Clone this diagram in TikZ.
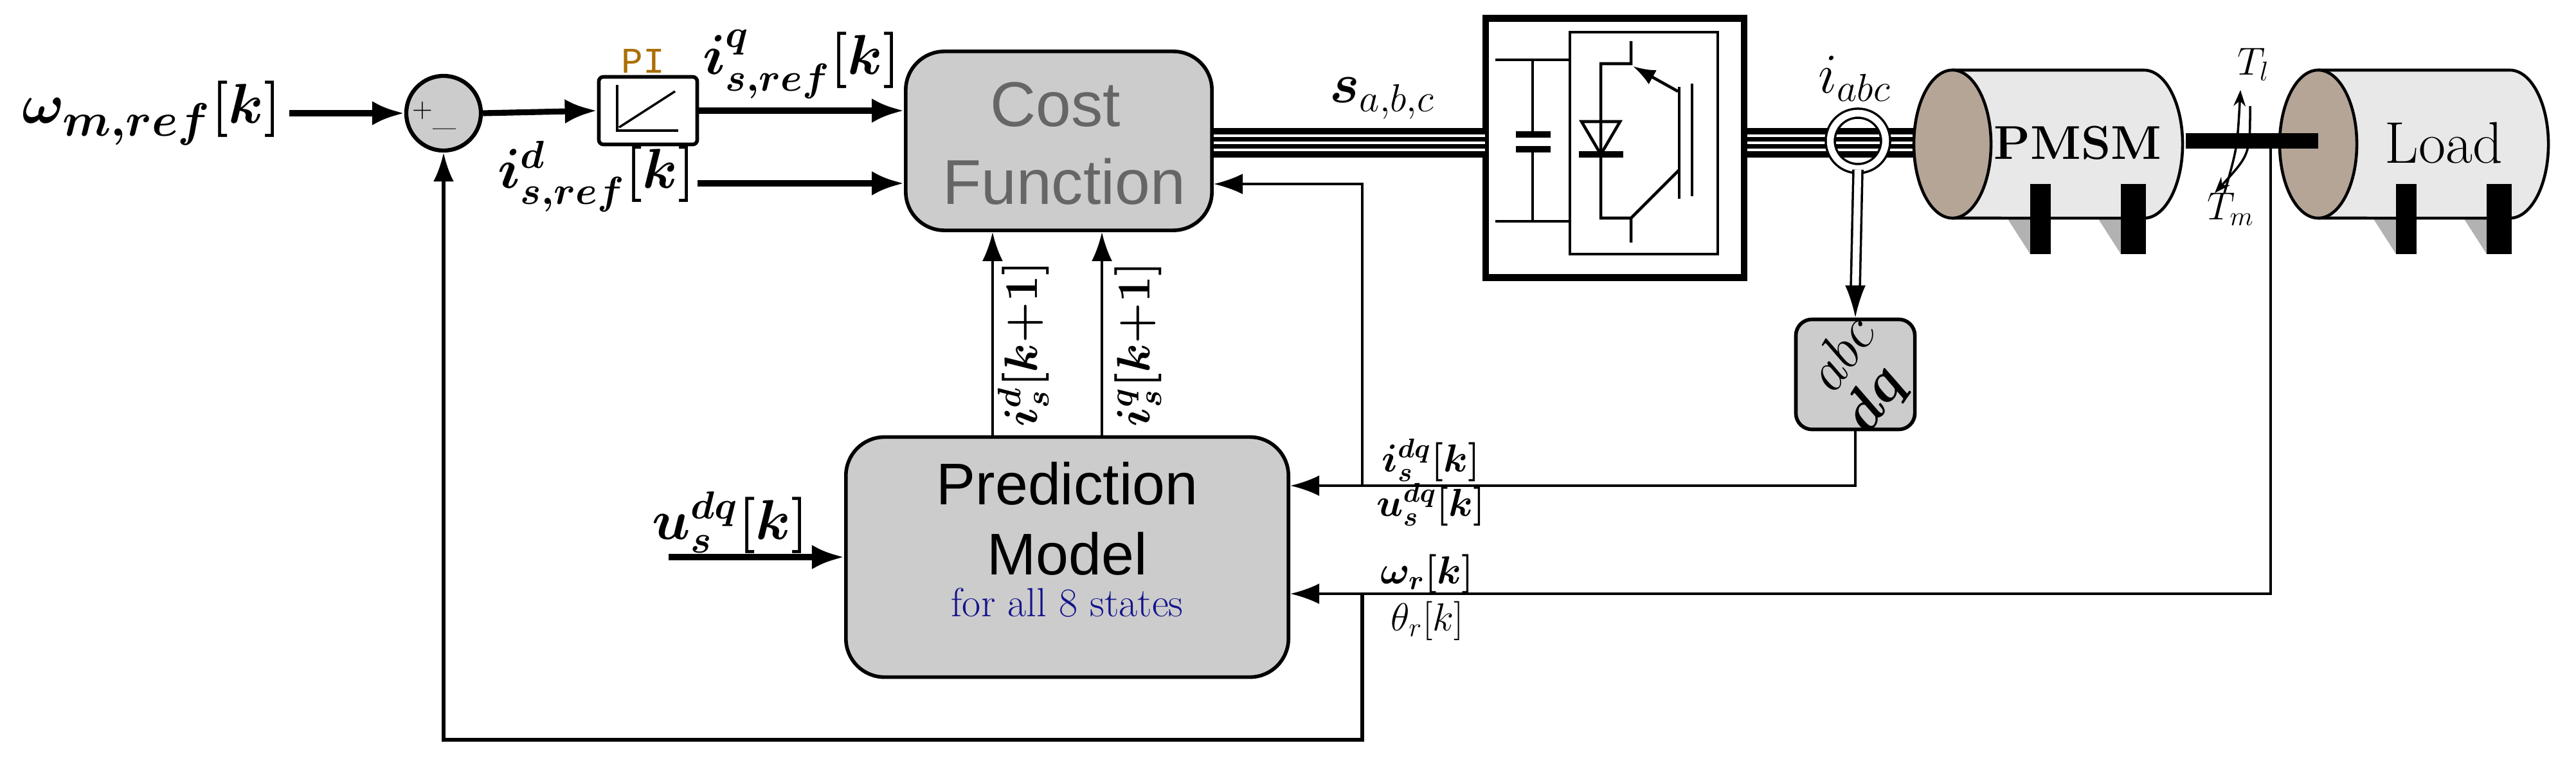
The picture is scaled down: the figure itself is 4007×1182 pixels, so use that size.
\documentclass[tikz,border=0pt]{standalone}
\usepackage{amsmath,bm}
\usepackage{fontspec}
\newfontfamily\sansf{Liberation Sans}
\newfontfamily\monof{Liberation Mono}
\usetikzlibrary{arrows.meta,positioning,shapes.geometric}

\begin{document}
\begin{tikzpicture}[
    x=0.01cm, y=-0.01cm,
    blk/.style={draw, line width=1.6pt, fill=gray!40, rounded corners=0.6cm},
    arrow/.style={-{Latex[length=0.5cm,width=0.38cm]}, line width=2.6pt},
    thin arrow/.style={-{Latex[length=0.45cm,width=0.32cm]}, line width=1.1pt},
    bus/.style={line width=0.46cm, black},
    lbl/.style={font=\fontsize{25}{28}\selectfont},
    slbl/.style={font=\fontsize{17}{20}\selectfont},
    face/.style={fill={rgb,255:red,181;green,165;blue,150}}
]
\useasboundingbox (0,0) rectangle (4007,1182);

% blocks
\node[font=\fontsize{29}{30}\selectfont] (wref) at (236,176) {$\bm{\omega_{m,ref}[k]}$};
\node[circle, draw, line width=1.8pt, fill=gray!40, minimum size=1.16cm] (sum) at (690,176) {};
\node[font=\fontsize{12}{12}\selectfont] at (657,172) {$+$};
\node[font=\fontsize{14}{14}\selectfont] at (692,198) {$\_$};
\node[draw, line width=1.6pt, fill=white, rounded corners=2pt, minimum width=1.53cm, minimum height=1.05cm] (pi) at (1008,172) {};
\draw[line width=1pt] (960,132) -- (960,203) -- (1055,203);
\draw[line width=1pt] (963,198) -- (1050,142);
\node[font=\monof\fontsize{16}{16}\selectfont, text={rgb,255:red,170;green,110;blue,0}] at (1000,95) {PI};
\node[blk, minimum width=4.76cm, minimum height=2.78cm] (cost) at (1647,219) {};
\node[font=\sansf\fontsize{28}{28}\selectfont, text=black!60] at (1642,163) {Cost};
\node[font=\sansf\fontsize{28}{28}\selectfont, text=black!60] at (1655,282) {Function};
\node[blk, minimum width=6.88cm, minimum height=3.73cm] (pred) at (1660,866) {};
\node[font=\sansf\fontsize{26}{31}\selectfont, align=center] at (1660,806) {Prediction\\Model};
\node[font=\fontsize{18}{18}\selectfont, text={rgb,255:red,20;green,20;blue,140}] at (1660,937) {for all 8 states};
\node[blk, rounded corners=0.25cm, minimum width=1.85cm, minimum height=1.71cm] (abcdq) at (2886,582) {};
\node[font=\fontsize{25}{28}\selectfont, rotate=55] at (2862,548) {$abc$};
\node[font=\fontsize{25}{28}\selectfont, rotate=55] at (2918,622) {$\bm{dq}$};

% inverter
\node[draw, line width=3pt, minimum width=4.02cm, minimum height=4.03cm] (inv) at (2512,230) {};
\draw[line width=1.3pt] (2442,50) rectangle (2672,395);
\draw[line width=1.3pt] (2326,93) -- (2442,93) (2326,344) -- (2442,344)
    (2384,93) -- (2384,209) (2384,232) -- (2384,344);
\draw[line width=3pt] (2358,209) -- (2412,209) (2358,232) -- (2412,232);
\draw[line width=1.3pt] (2537,64) -- (2537,99) -- (2490,99) -- (2490,339) -- (2537,339) -- (2537,377)
    (2537,339) -- (2612,264);
\draw[line width=1.3pt] (2460,189) -- (2520,189) -- (2490,240) -- cycle;
\draw[line width=3pt] (2456,240) -- (2525,240);
\draw[line width=1.3pt] (2612,135) -- (2612,309);
\draw[line width=1.3pt] (2632,130) -- (2632,305);
\draw[-{Latex[length=0.35cm,width=0.25cm]}, line width=1.3pt] (2610,142) -- (2540,103);

% buses
\coordinate (pmsm) at (3040,222);
\draw[bus] (cost.east |- 0,222) -- (inv.west |- 0,222);
\draw[bus] (inv.east |- 0,222) -- (pmsm);
\foreach \d in {-11,0,11}{
  \draw[white, line width=0.9pt] (cost.east |- 0,222) ++(0,\d) -- ++(422,0);
  \draw[white, line width=0.9pt] (inv.east |- 0,222) ++(0,\d) -- ++(327,0);
}

% machines
\foreach \cx/\txt in {3037/{\fontsize{21}{21}\selectfont\textbf{PMSM}}, 3606/{\fontsize{26}{26}\selectfont Load}}{
  \fill[gray!60] (\cx+85,339) -- (\cx+121,395) -- (\cx+121,300) -- cycle;
  \fill[gray!60] (\cx+226,339) -- (\cx+262,395) -- (\cx+262,300) -- cycle;
  \draw[line width=1.3pt, fill=gray!18] (\cx,109) -- (\cx+298,109) arc[start angle=90, end angle=-90, x radius=0.6cm, y radius=1.15cm] -- (\cx,339);
  \draw[line width=1.3pt, face] (\cx,224) ellipse [x radius=0.6cm, y radius=1.15cm];
  \fill (\cx+121,286) rectangle (\cx+153,395);
  \fill (\cx+262,286) rectangle (\cx+301,395);
  \node at (\cx+195,222) {\txt};
}
\coordinate (load) at (3606,219);
\fill (3400,207) rectangle (load |- 0,231);
\draw[-{Stealth[length=0.25cm]}, line width=1pt] (3460,300) .. controls (3480,230) .. (3485,140);
\draw[-{Stealth[length=0.25cm]}, line width=1pt] (3500,165) .. controls (3500,240) .. (3445,300);
\node[slbl] at (3505,100) {$T_l$};
\node[slbl] at (3470,325) {$T_m$};

% current sensor
\node[circle, draw, line width=1pt, double=white, double distance=3pt, minimum size=0.86cm] (sensor) at (2890,219) {};
\draw[line width=1pt, double=white, double distance=3pt] (sensor.south) -- ([yshift=0.45cm]abcdq.north);
\draw[-{Latex[length=0.5cm,width=0.32cm]}, line width=1pt] ([yshift=0.5cm]abcdq.north) -- (abcdq.north);

% signals
\coordinate (idin) at (1085,285);
\coordinate (uin) at (1040,866);
\coordinate (ij) at (2119,755);
\coordinate (cj) at (2119,286);
\coordinate (wj) at (2119,923);
\coordinate (wr) at (3532,219);
\draw[arrow] (wref.east |- sum) -- (sum.west);
\draw[arrow] (sum.east) -- (pi.west);
\draw[arrow] (pi.east) -- (pi.east -| cost.west);
\draw[arrow] (idin) -- (idin -| cost.west);
\draw[arrow] (uin) -- (uin -| pred.west);
\draw[thin arrow] (abcdq.south) |- (ij -| pred.east);
\draw[thin arrow] (ij) -- (cj) -- (cj -| cost.east);
\draw[thin arrow] (wr) |- (wj -| pred.east);
\draw[-{Latex[length=0.45cm,width=0.32cm]}, line width=1.5pt] (wj) -- (wj |- 0,1150) -| (sum.south);
\draw[thin arrow] ([xshift=-1.16cm]pred.north) -- ([xshift=-1.16cm]pred.north |- cost.south);
\draw[thin arrow] ([xshift=0.54cm]pred.north) -- ([xshift=0.54cm]pred.north |- cost.south);

% labels
\node[lbl] at (1247,100) {$\bm{i_{s,ref}^{q}[k]}$};
\node[lbl] at (928,274) {$\bm{i_{s,ref}^{d}[k]}$};
\node[font=\fontsize{21}{24}\selectfont, rotate=90] at (1592,535) {$\bm{i_s^{d}[k{+}1]}$};
\node[font=\fontsize{21}{24}\selectfont, rotate=90] at (1770,535) {$\bm{i_s^{q}[k{+}1]}$};
\node[lbl] at (1136,812) {$\bm{u_s^{dq}[k]}$};
\node[lbl] at (2150,153) {$\bm{s}_{a,b,c}$};
\node[lbl] at (2885,122) {$i_{abc}$};
\node[slbl] at (2226,715) {$\bm{i_s^{dq}[k]}$};
\node[slbl] at (2226,784) {$\bm{u_s^{dq}[k]}$};
\node[slbl] at (2220,892) {$\bm{\omega_r[k]}$};
\node[slbl] at (2220,965) {$\theta_r[k]$};
\end{tikzpicture}
\end{document}
